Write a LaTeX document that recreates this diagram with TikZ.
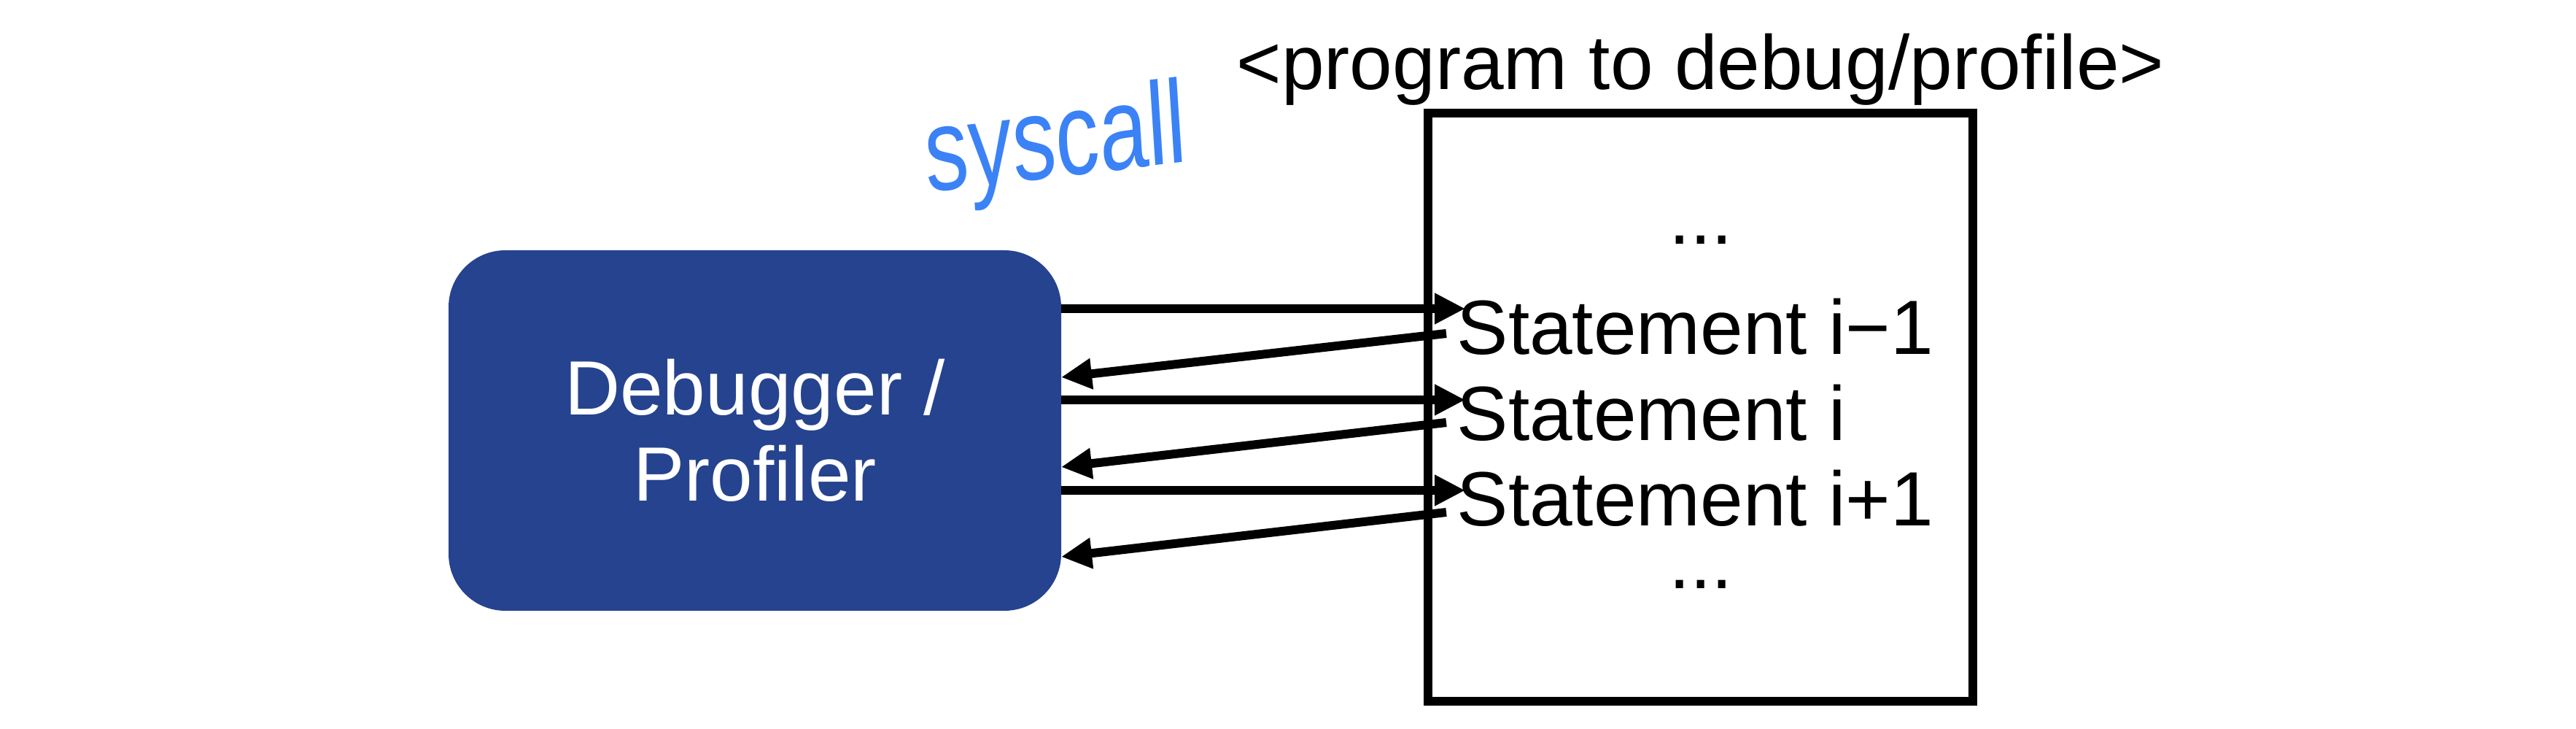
\documentclass[tikz,border=0pt]{standalone}
\usepackage{fontspec}
\setmainfont{Liberation Sans}
\usepackage{tikz}
\usetikzlibrary{calc}
\usetikzlibrary{arrows.meta}
\usetikzlibrary{positioning}
\definecolor{debugblue}{RGB}{37, 67, 142}
\definecolor{penblue}{RGB}{59, 130, 246}

\begin{document}
\begin{tikzpicture}[
    bigfont/.style={font=\fontsize{30}{33.6}\selectfont},
    stmtext/.style={bigfont, inner sep=0pt, anchor=base west},
    callarrow/.style={line width=0.12cm, -{Triangle[length=0.42cm, width=0.40cm]}}
  ]
            \useasboundingbox (0,0) rectangle (35.32,9.99);
            % debugger box and program box
            \node[fill=debugblue, rounded corners=0.78cm, minimum width=8.40cm, minimum height=4.94cm,
                  inner sep=0pt, outer sep=0pt, text=white, align=center, bigfont]
                  (debugger) at (10.35, 4.09) {Debugger /\\Profiler};
            \node[draw, line width=0.12cm, minimum width=7.47cm, minimum height=8.06cm, inner sep=0pt]
                  (program) at (23.315, 4.41) {};
            \node[bigfont, inner sep=0pt, anchor=base] (title) at ([yshift=0.26cm]program.north) {<program to debug/profile>};
            % statements
            \node[bigfont, inner sep=0pt, anchor=base] (dotstop) at (23.32, 6.64) {...};
            \node[stmtext]                               (stmA)    at (19.97, 5.13) {Statement i−1};
            \node[stmtext]                               (stmB)    at ([yshift=-1.18cm]stmA.base west) {Statement i};
            \node[stmtext]                               (stmC)    at ([yshift=-1.17cm]stmB.base west) {Statement i+1};
            \node[bigfont, inner sep=0pt, anchor=base] (dotsbot) at (23.32, 1.92) {...};
            % handwritten note
            \node[text=penblue, font=\fontsize{46}{46}\selectfont, xscale=0.74, rotate=5, inner sep=0pt]
                  (syscall) at (14.48, 7.98) {syscall};
            % arrow ends
            \coordinate (callA) at (20.09, 5.76);
            \coordinate (callB) at (20.09, 4.51);
            \coordinate (callC) at (20.09, 3.27);
            \coordinate (retA)  at (19.83, 5.42);
            \coordinate (retB)  at (19.83, 4.20);
            \coordinate (retC)  at (19.83, 2.97);
            \coordinate (backA) at ([yshift= 0.73cm]debugger.east);
            \coordinate (backB) at ([yshift=-0.50cm]debugger.east);
            \coordinate (backC) at ([yshift=-1.73cm]debugger.east);
            % calls and returns
            \draw[callarrow] (debugger.east |- callA) -- (callA);
            \draw[callarrow] (retA) -- (backA);
            \draw[callarrow] (debugger.east |- callB) -- (callB);
            \draw[callarrow] (retB) -- (backB);
            \draw[callarrow] (debugger.east |- callC) -- (callC);
            \draw[callarrow] (retC) -- (backC);
\end{tikzpicture}
\end{document}
